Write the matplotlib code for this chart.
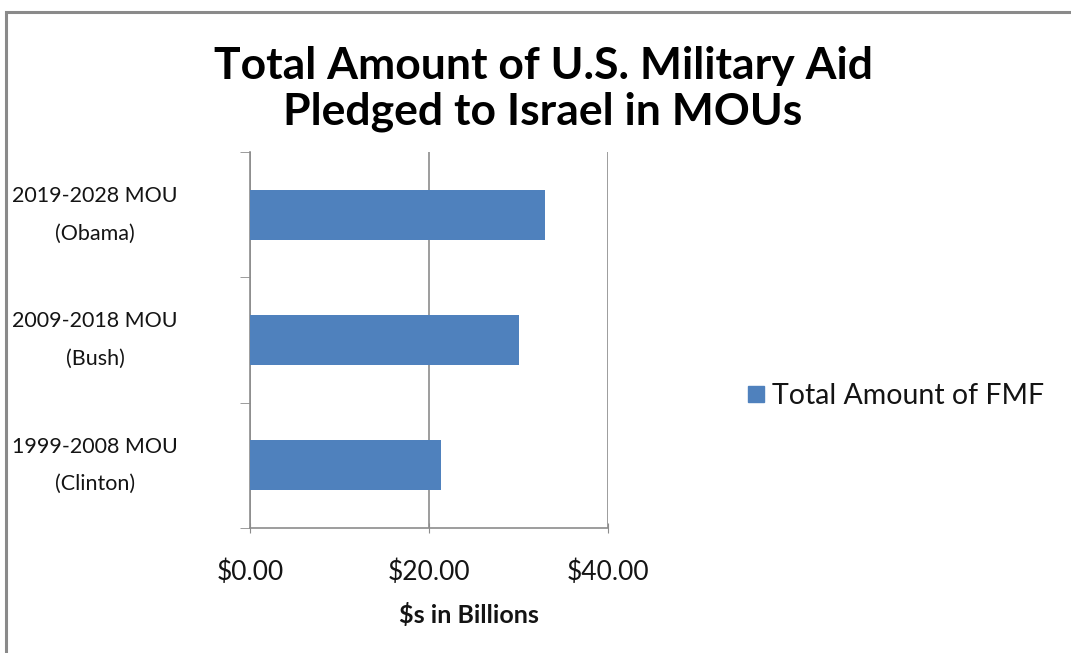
import matplotlib.pyplot as plt
from matplotlib.patches import Rectangle
from matplotlib.lines import Line2D

# data ($ billions)
categories = ["1999-2008 MOU\n(Clinton)", "2009-2018 MOU\n(Bush)", "2019-2028 MOU\n(Obama)"]
fmf_total = [21.3, 30.0, 33.0]
x_ticks = [0, 20, 40]
x_tick_labels = ["$0.00", "$20.00", "$40.00"]

plt.rcParams['font.family'] = ['Lato', 'DejaVu Sans']
bar_color = "#4F81BD"
grid_color = "#8c8c8c"
text_color = "#141414"

fig = plt.figure(figsize=(10.71, 6.53), dpi=100)
W, H = 1071, 653
ax = fig.add_axes([250 / W, 1 - 528 / H, (608 - 250) / W, (528 - 152) / H])

ypos = range(len(categories))
ax.barh(ypos, fmf_total, height=0.4, color=bar_color, zorder=3)
ax.set_xlim(0, 40)
ax.set_ylim(-0.5, len(categories) - 0.5)

ax.set_xticks(x_ticks)
ax.set_xticklabels(x_tick_labels, fontsize=19, color=text_color)
ax.set_yticks(list(ypos))
ax.set_yticklabels(categories, fontsize=15.5, color=text_color, linespacing=2.1)
for lbl in ax.get_yticklabels():
    lbl.set_multialignment("center")
    lbl.set_verticalalignment("center")
ax.tick_params(axis='y', length=0, pad=52)
# category boundary ticks on the y axis
ax.set_yticks([-0.5 + i for i in range(len(categories) + 1)], minor=True)
ax.tick_params(axis='y', which='minor', length=7, direction='out', color=grid_color)
ax.tick_params(axis='x', length=7, direction='inout', color=grid_color, pad=19)

ax.xaxis.grid(True, color=grid_color, linewidth=1.2, zorder=0)
for s in ["top", "right"]:
    ax.spines[s].set_visible(False)
for s in ["left", "bottom"]:
    ax.spines[s].set_color(grid_color)
    ax.spines[s].set_linewidth(1.2)

fig.text(469 / W, 1 - 615 / H, "$s in Billions", ha="center", va="center",
         fontsize=18, fontweight="bold", color=text_color)

fig.text(543 / W, 1 - 89 / H, "Total Amount of U.S. Military Aid\nPledged to Israel in MOUs",
         ha="center", va="center", fontsize=32, fontweight="bold",
         color="black", linespacing=1.15)

handle = Line2D([], [], marker="s", linestyle="none", markersize=11, color=bar_color)
fig.legend([handle], ["Total Amount of FMF"], loc="center left",
           bbox_to_anchor=(718 / W, 1 - 396 / H), frameon=False,
           fontsize=20.5, handletextpad=0.1, handlelength=0.9, labelcolor=text_color)

# chart frame (top and left edges visible in the crop)
fig.patches.append(Rectangle((6 / W, -0.05), 1.2, 1 - 12 / H + 0.05, transform=fig.transFigure,
                             fill=False, edgecolor="#8a8a8a", linewidth=2.2))

fig.savefig("out.png", dpi=100)
